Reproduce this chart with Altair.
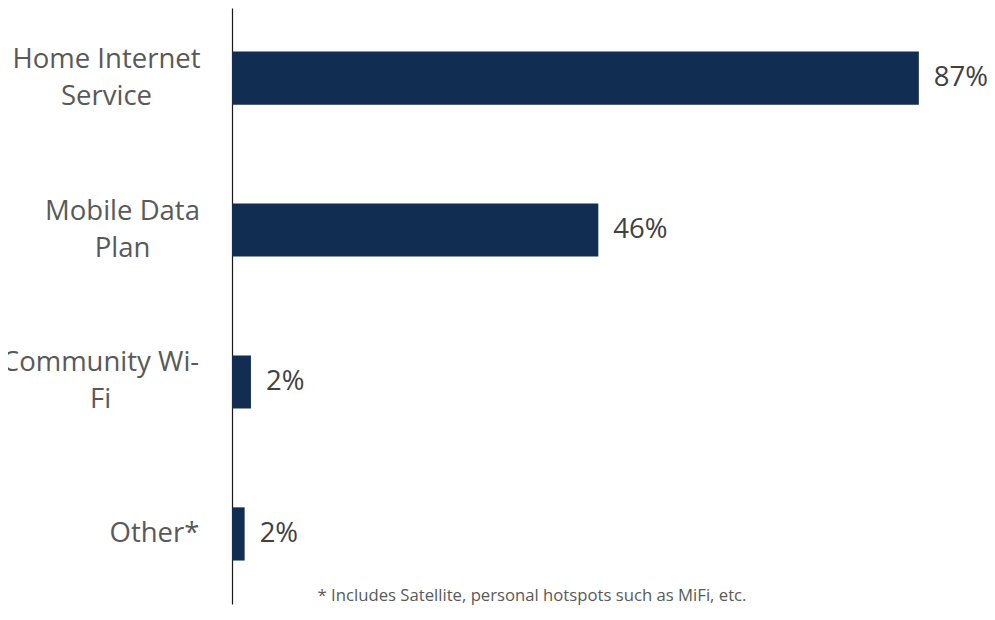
import json
import altair as alt
import pandas as pd

# ---- data ----
categories = ["Home Internet Service", "Mobile Data Plan", "Community Wi-Fi", "Other*"]
label_lines = [["Home Internet", "Service"], ["Mobile Data", "Plan"], ["Community Wi-", "Fi"], ["Other*"]]
values = [87, 46.4, 2.4, 1.6]
footnote = "* Includes Satellite, personal hotspots such as MiFi, etc."

# ---- styling (label centre offsets from the axis line) ----
label_pad = {"Home Internet Service": 126, "Mobile Data Plan": 110, "Community Wi-Fi": 132, "Other*": 78}

df = pd.DataFrame({"category": categories, "value": values})

label_expr = ""
for cat, lines in zip(categories, label_lines):
    label_expr += f"datum.value === {json.dumps(cat)} ? {json.dumps(lines)} : "
label_expr += "datum.value"

LINE_H = 37
pad_cond = {
    "condition": [{"test": f"datum.value === {json.dumps(c)}", "value": label_pad[c]} for c in categories],
    "value": 78,
}
off_cond = {
    "condition": [
        {"test": f"datum.value === {json.dumps(c)}", "value": -(len(l) - 1) * LINE_H / 2}
        for c, l in zip(categories, label_lines)
    ],
    "value": 0,
}

FONT = "Open Sans"

y_enc = alt.Y(
    "category:N",
    sort=categories,
    title=None,
    scale=alt.Scale(paddingInner=0.65, paddingOuter=0.286),
    axis=alt.Axis(
        ticks=False,
        tickSize=0,
        domainColor="#1a1a1a",
        domainWidth=1.2,
        labelExpr=label_expr,
        labelAlign="center",
        labelBaseline="middle",
        labelFont=FONT,
        labelFontSize=27.5,
        labelLineHeight=LINE_H,
        labelColor="#595959",
        labelPadding=pad_cond,
        labelOffset=off_cond,
        labelLimit=0,
    ),
)
x_enc = alt.X("value:Q", scale=alt.Scale(domain=[0, 95]), axis=None)

bars = alt.Chart(df).mark_bar(color="#112d52").encode(x=x_enc, y=y_enc)

text = (
    alt.Chart(df)
    .transform_calculate(label="round(datum.value) + '%'")
    .mark_text(align="left", baseline="middle", dx=15, font=FONT, fontSize=27.5, color="#404040")
    .encode(x=x_enc, y=y_enc, text="label:N")
)

chart = (
    alt.layer(bars, text)
    .properties(
        width=750,
        height=596,
        autosize="none",
        padding={"left": 224, "top": 0, "right": 5, "bottom": 2},
        title=alt.TitleParams(
            text=footnote,
            orient="bottom",
            anchor="middle",
            baseline="alphabetic",
            offset=-3,
            dx=-75,
            font=FONT,
            fontSize=16.7,
            fontWeight="normal",
            color="#595959",
        ),
    )
    .configure_view(stroke=None)
)

chart.save("out.html", embed_options={"renderer": "svg", "actions": False})
